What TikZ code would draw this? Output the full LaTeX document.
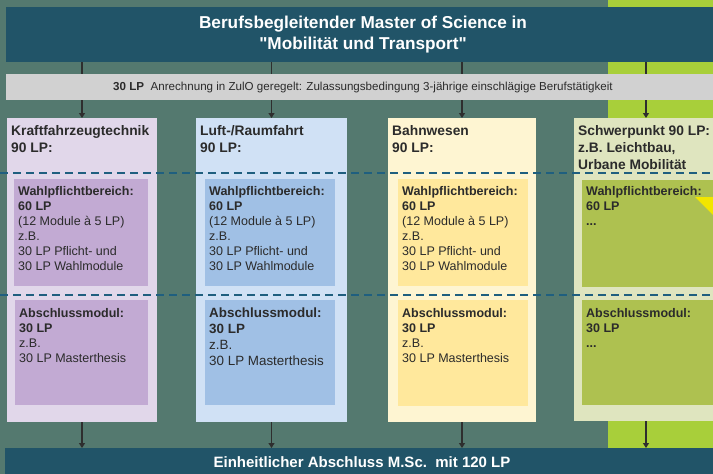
\documentclass[tikz,border=0pt]{standalone}
\usepackage{fontspec}
\setmainfont{Liberation Sans}
% same family without the TeX quote mapping, for straight quotes
\newfontfamily\qfont{Liberation Sans}
\usetikzlibrary{arrows.meta}

\definecolor{bgc}{HTML}{54796F}
\definecolor{bandblue}{HTML}{215468}
\definecolor{bandgray}{HTML}{D1D1D1}
\definecolor{limeband}{HTML}{A8CF3A}
\definecolor{lilaOut}{HTML}{E1D7EA}
\definecolor{lilaIn}{HTML}{C2AAD3}
\definecolor{blueOut}{HTML}{D0E1F5}
\definecolor{blueIn}{HTML}{A0C0E5}
\definecolor{creamOut}{HTML}{FEF5D2}
\definecolor{creamIn}{HTML}{FFE89C}
\definecolor{oliveOut}{HTML}{DFE5BF}
\definecolor{oliveIn}{HTML}{AEC150}
\definecolor{dashc}{HTML}{1F5F7F}
\definecolor{inkc}{HTML}{2B2B2B}
\definecolor{linkc}{HTML}{2E2E2E}
\definecolor{signal}{HTML}{F2E600}

\newcommand{\sq}{{\qfont\bfseries\symbol{34}}}

\begin{document}
\begin{tikzpicture}[x=1pt,y=-1pt,
  band/.style={inner sep=0pt, outer sep=0pt, anchor=north west, minimum width=714pt, align=center},
  box/.style={inner sep=0pt, outer sep=0pt, anchor=north west},
  headtxt/.style={inner sep=0pt, anchor=north west, align=left, text=inkc,
    font=\fontsize{13.8}{17}\selectfont\bfseries},
  bodytxt/.style={inner sep=0pt, anchor=north west, align=left, text=inkc,
    font=\fontsize{12.5}{15}\selectfont},
  bigbodytxt/.style={bodytxt, font=\fontsize{13.4}{16}\selectfont},
  link/.style={draw=linkc, line width=1.2pt},
  arrow/.style={link, -{Triangle[width=6pt,length=5pt]}},
  sep/.style={draw=dashc, line width=1.7pt, dash pattern=on 8pt off 5pt}
]
\useasboundingbox (0,0) rectangle (713,474);
\clip (0,0) rectangle (713,474);

% backdrop and the lime band behind the focus column
\fill[bgc] (0,0) rectangle (713,474);
\fill[limeband] (608,0) rectangle (713,474);

% title band
\node[band, fill=bandblue, minimum height=55pt, text=white,
      font=\fontsize{17.2}{20.6}\selectfont\bfseries] (title) at (6,7)
  {Berufsbegleitender Master of Science in\\\sq Mobilität und Transport\sq};

% columns
\node[box, fill=lilaOut,  minimum width=150pt, minimum height=304pt] (k1) at (7,118) {};
\node[box, fill=blueOut,  minimum width=151pt, minimum height=304pt] (k2) at (196,118) {};
\node[box, fill=creamOut, minimum width=148pt, minimum height=304pt] (k3) at (388,118) {};
\node[box, fill=oliveOut, minimum width=144pt, minimum height=303pt] (k4) at (574,118) {};

% links from the title band through the recognition band
\foreach \k in {k1,k2,k3,k4}
  \draw[link] (title.south -| \k.north) -- ++(0,12);

% recognition band
\node[band, fill=bandgray, minimum height=26pt, text=inkc,
      font=\fontsize{11.6}{13}\selectfont] (credit) at (6,74)
  {\textbf{30 LP}\ \ Anrechnung in ZulO geregelt: Zulassungsbedingung 3-jährige einschlägige Berufstätigkeit};

\foreach \k in {k1,k2,k3,k4}
  \draw[arrow] (credit.south -| \k.north) -- (\k.north);

% inner boxes
\node[box, fill=lilaIn,  minimum width=134pt, minimum height=107pt] (k1a) at (14,179) {};
\node[box, fill=lilaIn,  minimum width=133pt, minimum height=105pt] (k1b) at (15,300) {};
\node[box, fill=blueIn,  minimum width=130pt, minimum height=107pt] (k2a) at (205,179) {};
\node[box, fill=blueIn,  minimum width=130pt, minimum height=105pt] (k2b) at (205,300) {};
\node[box, fill=creamIn, minimum width=130pt, minimum height=107pt] (k3a) at (398,179) {};
\node[box, fill=creamIn, minimum width=130pt, minimum height=106pt] (k3b) at (398,300) {};
\node[box, fill=oliveIn, minimum width=140pt, minimum height=107pt] (k4a) at (582,180) {};
\node[box, fill=oliveIn, minimum width=140pt, minimum height=105pt] (k4b) at (582,300) {};

% yellow corner mark
\fill[signal] (695,197) -- (720,197) -- (720,222) -- cycle;

% dashed separators
\draw[sep] (0,173) -- (713,173);
\draw[sep] (0,295) -- (713,295);

% column headings
\node[headtxt] (k1h) at ([shift={(4,7)}]k1.north west) {Kraftfahrzeugtechnik\\90 LP:};
\node[headtxt] (k2h) at ([shift={(4,7)}]k2.north west) {Luft-/Raumfahrt\\90 LP:};
\node[headtxt] (k3h) at ([shift={(4,7)}]k3.north west) {Bahnwesen\\90 LP:};
\node[headtxt] (k4h) at ([shift={(4,7)}]k4.north west) {Schwerpunkt 90 LP:\\z.B. Leichtbau,\\Urbane Mobilität};

% elective area texts
\foreach \b in {k1a,k2a,k3a}
  \node[bodytxt] at ([shift={(4,7)}]\b.north west)
    {\textbf{Wahlpflichtbereich:}\\\textbf{60 LP}\\(12 Module à 5 LP)\\z.B.\\30 LP Pflicht- und\\30 LP Wahlmodule};
\node[bodytxt] (k4at) at ([shift={(4,6)}]k4a.north west)
  {\textbf{Wahlpflichtbereich:}\\\textbf{60 LP}\\\textbf{...}};

% final module texts
\node[bodytxt] (k1bt) at ([shift={(4,8)}]k1b.north west)
  {\textbf{Abschlussmodul:}\\\textbf{30 LP}\\z.B.\\30 LP Masterthesis};
\node[bigbodytxt] (k2bt) at ([shift={(4,8)}]k2b.north west)
  {\textbf{Abschlussmodul:}\\\textbf{30 LP}\\z.B.\\30 LP Masterthesis};
\node[bodytxt] (k3bt) at ([shift={(4,8)}]k3b.north west)
  {\textbf{Abschlussmodul:}\\\textbf{30 LP}\\z.B.\\30 LP Masterthesis};
\node[bodytxt] (k4bt) at ([shift={(4,8)}]k4b.north west)
  {\textbf{Abschlussmodul:}\\\textbf{30 LP}\\\textbf{...}};

% degree band
\node[band, fill=bandblue, minimum height=28pt, text=white,
      font=\fontsize{15}{18}\selectfont\bfseries] (final) at (5,448)
  {Einheitlicher Abschluss M.Sc.\ \ mit 120 LP};

\foreach \k in {k1,k2,k3,k4}
  \draw[arrow] (\k.south) -- (\k.south |- final.north);
\end{tikzpicture}
\end{document}
